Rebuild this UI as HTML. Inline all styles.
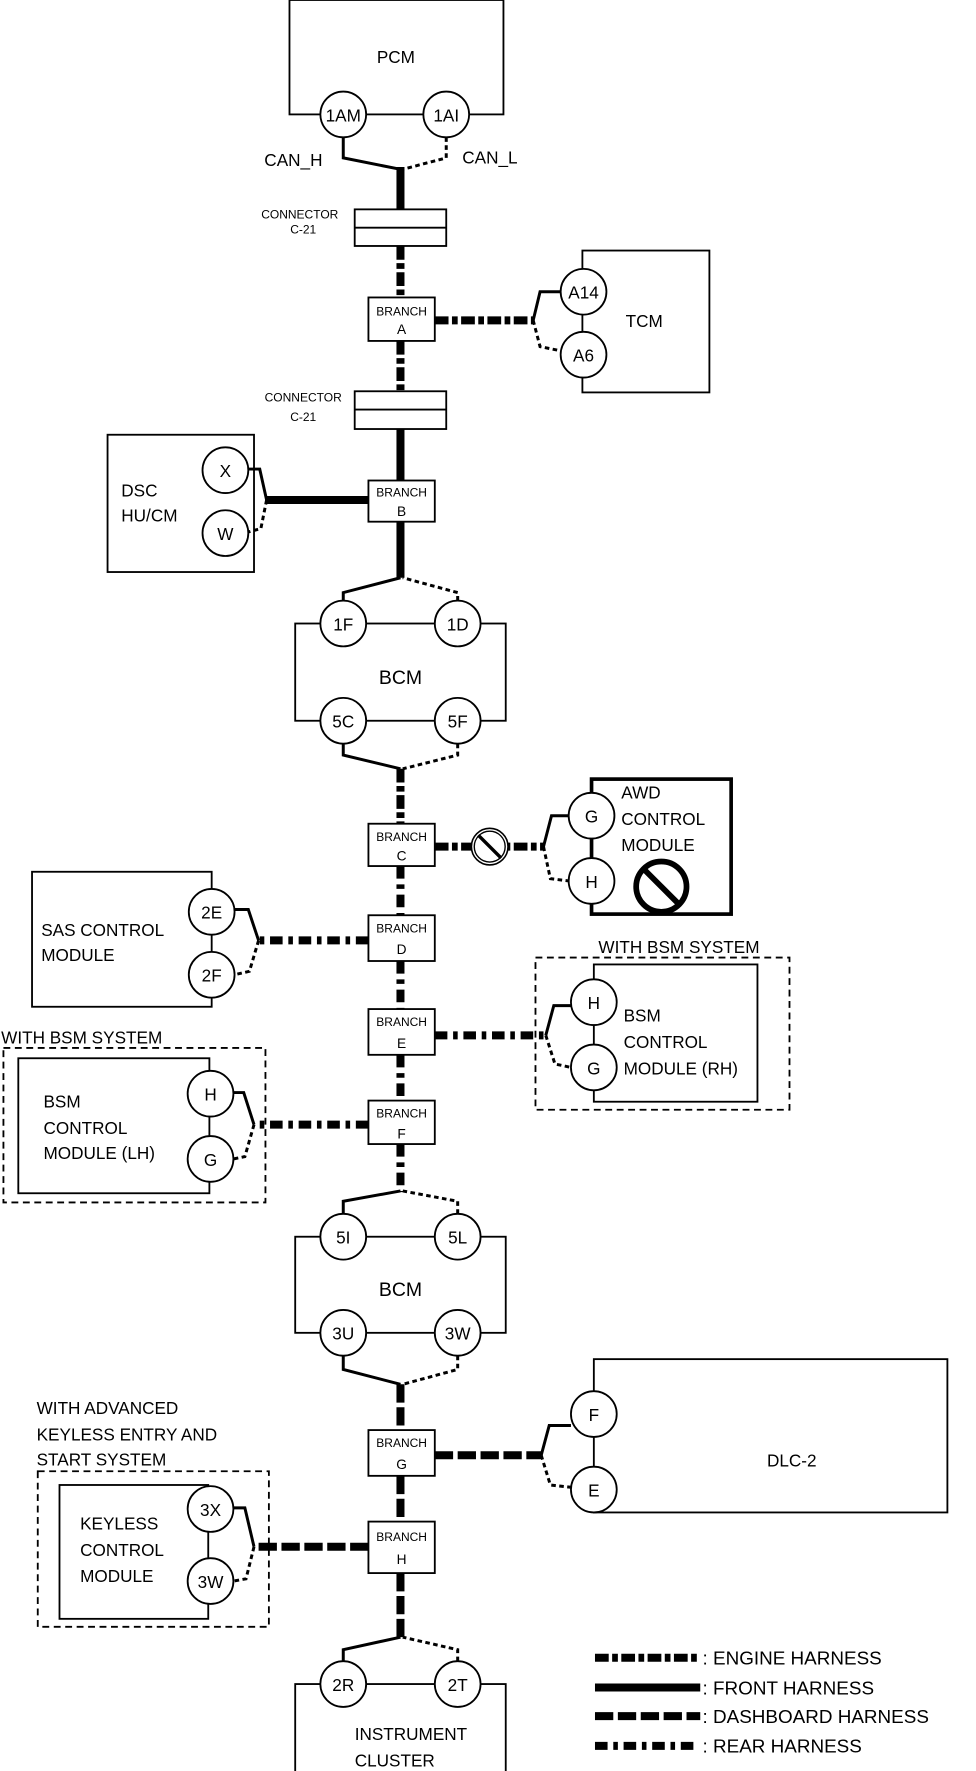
<!DOCTYPE html>
<html><head><meta charset="utf-8"><style>
html,body{margin:0;padding:0;background:#fff;}
svg{display:block;}
text{font-family:"Liberation Sans",Arial,sans-serif;fill:#000;}
</style></head><body>
<svg width="976" height="1771" viewBox="0 0 853 1548" preserveAspectRatio="none" xmlns="http://www.w3.org/2000/svg">
<defs>
<style>
.box{fill:#fff;stroke:#000;stroke-width:1.6}
.c{fill:#fff;stroke:#000;stroke-width:1.6}
.w{fill:none;stroke:#000;stroke-width:2.6}
.wd{fill:none;stroke:#000;stroke-width:2.6;stroke-dasharray:4 3}
.front{fill:none;stroke:#000;stroke-width:7}
.eng{fill:none;stroke:#000;stroke-width:7;stroke-dasharray:12 3 5 3}
.dash{fill:none;stroke:#000;stroke-width:7;stroke-dasharray:16 4}
.rear{fill:none;stroke:#000;stroke-width:7;stroke-dasharray:11 5 4 5}
.ct{font-size:15px;text-anchor:middle}
.lb{font-size:15px}
.br{font-size:10.5px;text-anchor:middle}
.bl{font-size:12px;text-anchor:middle}
.sm{font-size:10.5px;text-anchor:middle}
.lg{font-size:16.5px}
</style>
</defs>

<!-- TRUNK -->
<line class="front" x1="350" y1="146" x2="350" y2="184"/>
<line class="eng" x1="350" y1="215" x2="350" y2="260"/>
<line class="eng" x1="350" y1="298" x2="350" y2="342"/>
<line class="front" x1="350" y1="375" x2="350" y2="420"/>
<line class="front" x1="350" y1="456" x2="350" y2="505"/>
<line class="eng" x1="350" y1="672" x2="350" y2="720"/>
<line class="rear" x1="350" y1="757" x2="350" y2="800"/>
<line class="rear" x1="350" y1="840" x2="350" y2="882"/>
<line class="rear" x1="350" y1="922" x2="350" y2="962"/>
<line class="rear" x1="350" y1="1000" x2="350" y2="1042"/>
<line class="dash" x1="350" y1="1210" x2="350" y2="1250"/>
<line class="dash" x1="350" y1="1290" x2="350" y2="1330"/>
<line class="dash" x1="350" y1="1375" x2="350" y2="1432"/>

<!-- PCM -->
<rect class="box" x="253" y="0" width="187" height="100"/>
<text class="ct" x="346" y="55">PCM</text>
<circle class="c" cx="300" cy="100" r="20"/><text class="ct" x="300" y="106">1AM</text>
<circle class="c" cx="390" cy="100" r="20"/><text class="ct" x="390" y="106">1AI</text>
<polyline class="w" points="300,120 300,138 350,148"/>
<polyline class="wd" points="390,120 390,138 352,148"/>
<text class="lb" x="231" y="145">CAN_H</text>
<text class="lb" x="404" y="143">CAN_L</text>

<!-- Connector 1 -->
<rect class="box" x="310" y="183" width="80" height="32"/>
<line x1="310" y1="199" x2="390" y2="199" stroke="#000" stroke-width="1.6"/>
<text class="sm" x="262" y="191">CONNECTOR</text>
<text class="sm" x="265" y="204">C-21</text>

<!-- Branch A -->
<rect class="box" x="322" y="260" width="58" height="38"/>
<text class="br" x="351" y="276">BRANCH</text><text class="bl" x="351" y="292">A</text>
<line class="eng" x1="380" y1="280" x2="467" y2="280"/>
<polyline class="w" points="466,280 472,255 492,255"/>
<polyline class="wd" points="466,280 472,303 492,307"/>
<rect class="box" x="509" y="219" width="111" height="124"/>
<circle class="c" cx="510" cy="255" r="20"/><text class="ct" x="510" y="261">A14</text>
<circle class="c" cx="510" cy="310" r="20"/><text class="ct" x="510" y="316">A6</text>
<text class="ct" x="563" y="286">TCM</text>

<!-- Connector 2 -->
<rect class="box" x="310" y="342" width="80" height="33"/>
<line x1="310" y1="358" x2="390" y2="358" stroke="#000" stroke-width="1.6"/>
<text class="sm" x="265" y="351">CONNECTOR</text>
<text class="sm" x="265" y="368">C-21</text>

<!-- Branch B / DSC -->
<rect class="box" x="322" y="420" width="58" height="36"/>
<text class="br" x="351" y="434">BRANCH</text><text class="bl" x="351" y="451">B</text>
<line class="front" x1="322" y1="437" x2="232" y2="437"/>
<rect class="box" x="94" y="380" width="128" height="120"/>
<circle class="c" cx="197" cy="411" r="20"/><text class="ct" x="197" y="417">X</text>
<circle class="c" cx="197" cy="466" r="20"/><text class="ct" x="197" y="472">W</text>
<polyline class="w" points="233,437 227,410 217,410"/>
<polyline class="wd" points="233,437 228,462 217,465"/>
<text class="lb" x="106" y="434">DSC</text>
<text class="lb" x="106" y="456">HU/CM</text>

<!-- BCM 1 -->
<polyline class="w" points="300,525 300,518 350,505"/>
<polyline class="wd" points="400,525 400,518 352,505"/>
<rect class="box" x="258" y="545" width="184" height="85"/>
<circle class="c" cx="300" cy="545" r="20"/><text class="ct" x="300" y="551">1F</text>
<circle class="c" cx="400" cy="545" r="20"/><text class="ct" x="400" y="551">1D</text>
<circle class="c" cx="300" cy="630" r="20"/><text class="ct" x="300" y="636">5C</text>
<circle class="c" cx="400" cy="630" r="20"/><text class="ct" x="400" y="636">5F</text>
<text class="ct" x="350" y="598" style="font-size:17px">BCM</text>
<polyline class="w" points="300,650 300,660 350,672"/>
<polyline class="wd" points="400,650 400,660 352,672"/>

<!-- Branch C / AWD -->
<rect class="box" x="322" y="720" width="58" height="37"/>
<text class="br" x="351" y="735">BRANCH</text><text class="bl" x="351" y="752">C</text>
<line class="eng" x1="380" y1="740" x2="476" y2="740"/>
<circle cx="428" cy="740" r="16" fill="#fff" stroke="#000" stroke-width="1.4"/>
<circle cx="428" cy="740" r="13.5" fill="none" stroke="#000" stroke-width="1.2"/>
<line x1="418" y1="730" x2="438" y2="750" stroke="#000" stroke-width="3"/>
<polyline class="w" points="475,740 482,713 497,713"/>
<polyline class="wd" points="475,740 481,768 497,770"/>
<rect x="517" y="681" width="122" height="118" fill="#fff" stroke="#000" stroke-width="3.2"/>
<circle class="c" cx="517" cy="713" r="20"/><text class="ct" x="517" y="719">G</text>
<circle class="c" cx="517" cy="770" r="20"/><text class="ct" x="517" y="776">H</text>
<text class="lb" x="543" y="698">AWD</text>
<text class="lb" x="543" y="721">CONTROL</text>
<text class="lb" x="543" y="744">MODULE</text>
<circle cx="578" cy="775" r="22" fill="none" stroke="#000" stroke-width="5"/>
<line x1="563" y1="760" x2="593" y2="790" stroke="#000" stroke-width="5"/>

<!-- Branch D / SAS -->
<rect class="box" x="322" y="800" width="58" height="40"/>
<text class="br" x="351" y="815">BRANCH</text><text class="bl" x="351" y="834">D</text>
<line class="rear" x1="322" y1="822" x2="226" y2="822"/>
<rect class="box" x="28" y="762" width="157" height="118"/>
<circle class="c" cx="185" cy="797" r="20"/><text class="ct" x="185" y="803">2E</text>
<circle class="c" cx="185" cy="852" r="20"/><text class="ct" x="185" y="858">2F</text>
<polyline class="w" points="226,822 217,795 205,795"/>
<polyline class="wd" points="226,822 218,849 205,852"/>
<text class="lb" x="36" y="818">SAS CONTROL</text>
<text class="lb" x="36" y="840">MODULE</text>

<!-- Branch E / BSM RH -->
<rect class="box" x="322" y="882" width="58" height="40"/>
<text class="br" x="351" y="897">BRANCH</text><text class="bl" x="351" y="916">E</text>
<line class="rear" x1="380" y1="905" x2="477" y2="905"/>
<text class="lb" x="523" y="833">WITH BSM SYSTEM</text>
<rect x="468" y="837" width="222" height="133" fill="none" stroke="#000" stroke-width="1.6" stroke-dasharray="6 4"/>
<rect class="box" x="519" y="843" width="143" height="120"/>
<circle class="c" cx="519" cy="876" r="20"/><text class="ct" x="519" y="882">H</text>
<circle class="c" cx="519" cy="933" r="20"/><text class="ct" x="519" y="939">G</text>
<polyline class="w" points="477,905 484,879 499,879"/>
<polyline class="wd" points="477,905 485,930 499,933"/>
<text class="lb" x="545" y="893">BSM</text>
<text class="lb" x="545" y="916">CONTROL</text>
<text class="lb" x="545" y="939">MODULE (RH)</text>

<!-- Branch F / BSM LH -->
<rect class="box" x="322" y="962" width="58" height="38"/>
<text class="br" x="351" y="977">BRANCH</text><text class="bl" x="351" y="995">F</text>
<line class="rear" x1="322" y1="983" x2="222" y2="983"/>
<text class="lb" x="1" y="912">WITH BSM SYSTEM</text>
<rect x="3" y="916" width="229" height="135" fill="none" stroke="#000" stroke-width="1.6" stroke-dasharray="6 4"/>
<rect class="box" x="16" y="925" width="167" height="118"/>
<circle class="c" cx="184" cy="956" r="20"/><text class="ct" x="184" y="962">H</text>
<circle class="c" cx="184" cy="1013" r="20"/><text class="ct" x="184" y="1019">G</text>
<polyline class="w" points="222,983 213,955 204,955"/>
<polyline class="wd" points="222,983 214,1011 204,1013"/>
<text class="lb" x="38" y="968">BSM</text>
<text class="lb" x="38" y="991">CONTROL</text>
<text class="lb" x="38" y="1013">MODULE (LH)</text>

<!-- BCM 2 -->
<polyline class="w" points="300,1061 300,1050 350,1041"/>
<polyline class="wd" points="400,1061 400,1050 352,1041"/>
<rect class="box" x="258" y="1081" width="184" height="84"/>
<circle class="c" cx="300" cy="1081" r="20"/><text class="ct" x="300" y="1087">5I</text>
<circle class="c" cx="400" cy="1081" r="20"/><text class="ct" x="400" y="1087">5L</text>
<circle class="c" cx="300" cy="1165" r="20"/><text class="ct" x="300" y="1171">3U</text>
<circle class="c" cx="400" cy="1165" r="20"/><text class="ct" x="400" y="1171">3W</text>
<text class="ct" x="350" y="1133" style="font-size:17px">BCM</text>
<polyline class="w" points="300,1185 300,1197 350,1210"/>
<polyline class="wd" points="400,1185 400,1197 352,1210"/>

<!-- Branch G / DLC-2 -->
<rect class="box" x="322" y="1250" width="58" height="40"/>
<text class="br" x="351" y="1265">BRANCH</text><text class="bl" x="351" y="1284">G</text>
<line class="dash" x1="380" y1="1272" x2="473" y2="1272"/>
<rect class="box" x="519" y="1188" width="309" height="134"/>
<circle class="c" cx="519" cy="1236" r="20"/><text class="ct" x="519" y="1242">F</text>
<circle class="c" cx="519" cy="1302" r="20"/><text class="ct" x="519" y="1308">E</text>
<polyline class="w" points="473,1272 480,1246 499,1246"/>
<polyline class="wd" points="473,1272 481,1298 499,1300"/>
<text class="ct" x="692" y="1282">DLC-2</text>

<!-- Branch H / Keyless -->
<rect class="box" x="322" y="1330" width="58" height="45"/>
<text class="br" x="351" y="1347">BRANCH</text><text class="bl" x="351" y="1367">H</text>
<line class="dash" x1="322" y1="1352" x2="222" y2="1352"/>
<text class="lb" x="32" y="1236">WITH ADVANCED</text>
<text class="lb" x="32" y="1259">KEYLESS ENTRY  AND</text>
<text class="lb" x="32" y="1281">START SYSTEM</text>
<rect x="33" y="1286" width="202" height="136" fill="none" stroke="#000" stroke-width="1.6" stroke-dasharray="6 4"/>
<rect class="box" x="52" y="1298" width="130" height="117"/>
<circle class="c" cx="184" cy="1319" r="20"/><text class="ct" x="184" y="1325">3X</text>
<circle class="c" cx="184" cy="1382" r="20"/><text class="ct" x="184" y="1388">3W</text>
<polyline class="w" points="222,1352 214,1318 204,1318"/>
<polyline class="wd" points="222,1352 215,1380 204,1382"/>
<text class="lb" x="70" y="1337">KEYLESS</text>
<text class="lb" x="70" y="1360">CONTROL</text>
<text class="lb" x="70" y="1383">MODULE</text>

<!-- Instrument cluster -->
<polyline class="w" points="300,1452 300,1442 350,1431"/>
<polyline class="wd" points="400,1452 400,1442 352,1431"/>
<rect class="box" x="258" y="1472" width="184" height="80"/>
<circle class="c" cx="300" cy="1472" r="20"/><text class="ct" x="300" y="1478">2R</text>
<circle class="c" cx="400" cy="1472" r="20"/><text class="ct" x="400" y="1478">2T</text>
<text class="lb" x="310" y="1521">INSTRUMENT</text>
<text class="lb" x="310" y="1544">CLUSTER</text>

<!-- Legend -->
<line class="eng" x1="520" y1="1449" x2="612" y2="1449"/>
<text class="lg" x="614" y="1455">: ENGINE HARNESS</text>
<line class="front" x1="520" y1="1475" x2="612" y2="1475"/>
<text class="lg" x="614" y="1481">: FRONT HARNESS</text>
<line class="dash" x1="520" y1="1500" x2="612" y2="1500"/>
<text class="lg" x="614" y="1506">: DASHBOARD HARNESS</text>
<line class="rear" x1="520" y1="1526" x2="610" y2="1526"/>
<text class="lg" x="614" y="1532">: REAR HARNESS</text>
</svg>
</body></html>
